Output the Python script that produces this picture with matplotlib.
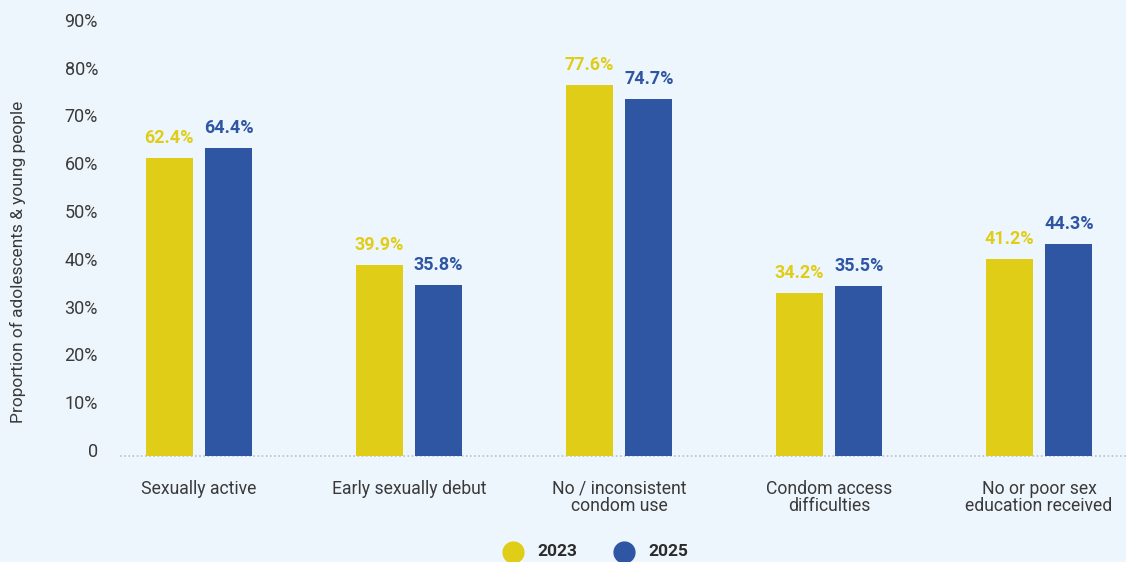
import matplotlib
matplotlib.use("Agg")
import matplotlib.pyplot as plt
from matplotlib.lines import Line2D
import numpy as np

categories = ["Sexually active", "Early sexually debut", "No / inconsistent\ncondom use",
              "Condom access\ndifficulties", "No or poor sex\neducation received"]
values_2023 = [62.4, 39.9, 77.6, 34.2, 41.2]
values_2025 = [64.4, 35.8, 74.7, 35.5, 44.3]
series_names = ["2023", "2025"]
ytick_values = [0, 10, 20, 30, 40, 50, 60, 70, 80, 90]
ytick_labels = ["0", "10%", "20%", "30%", "40%", "50%", "60%", "70%", "80%", "90%"]

BG = "#EEF6FD"
YELLOW = "#DFCD17"
BLUE = "#2E56A3"
TEXT = "#3a3a3a"

plt.rcParams["font.family"] = ["Roboto", "DejaVu Sans"]

W, H = 1126, 562
PT = 72 / 100  # points per pixel at dpi 100
fig = plt.figure(figsize=(W / 100, H / 100), dpi=100, facecolor=BG)

# axes spans x 120..1126 px, y 0..456 px (from top)
ax = fig.add_axes([120 / W, (H - 456) / H, (W - 120) / W, 456 / H])
ax.set_facecolor(BG)
ax.patch.set_alpha(0)

x = np.arange(len(categories))
bw = 0.224
off = 0.1417
ax.bar(x - off, values_2023, width=bw, color=YELLOW, zorder=2)
ax.bar(x + off, values_2025, width=bw, color=BLUE, zorder=2)

for xi, v in zip(x, values_2023):
    ax.annotate(f"{v:.1f}%", (xi - off, v), xytext=(0, 15 * PT), textcoords="offset points",
                ha="center", va="baseline", color=YELLOW, fontsize=13, fontweight="bold")
for xi, v in zip(x, values_2025):
    ax.annotate(f"{v:.1f}%", (xi + off, v), xytext=(0, 15 * PT), textcoords="offset points",
                ha="center", va="baseline", color=BLUE, fontsize=13, fontweight="bold")

ax.set_xlim(-0.376, 4.414)
ax.set_ylim(0, 95.4)

for s in ax.spines.values():
    s.set_visible(False)
ax.axhline(0, color="#b9c2ca", lw=1.2, ls=(0, (1, 1.5)), zorder=1, clip_on=False)

# y tick labels, sitting slightly above their value
ax.set_yticks([])
ytrans = ax.get_yaxis_transform()
for v, lab in zip(ytick_values, ytick_labels):
    ax.annotate(lab, (0, v), xycoords=ytrans, xytext=(-22 * PT, 4 * PT),
                textcoords="offset points", ha="right", va="center",
                fontsize=13, color=TEXT, annotation_clip=False)

ax.set_xticks(x)
ax.set_xticklabels(categories)
ax.tick_params(axis="x", length=0, pad=17, labelsize=12.7, labelcolor=TEXT)
for lab in ax.get_xticklabels():
    lab.set_va("top")
    lab.set_linespacing(0.98)

fig.text(18 / W, 1 - 262 / H, "Proportion of adolescents & young people", rotation=90,
         ha="center", va="center", fontsize=12.5, color=TEXT)

# legend along the bottom edge
ly = 1 - 552 / H
for cx, col, name in [(513, YELLOW, series_names[0]), (624, BLUE, series_names[1])]:
    fig.add_artist(Line2D([cx / W], [ly], marker="o", markersize=15, color=col,
                          transform=fig.transFigure, linestyle="none"))
    fig.text((cx + 24) / W, ly, name, ha="left", va="center", fontsize=12.5,
             fontweight="bold", color="#2b2b2b")

fig.savefig("out.png", dpi=100, facecolor=BG)
